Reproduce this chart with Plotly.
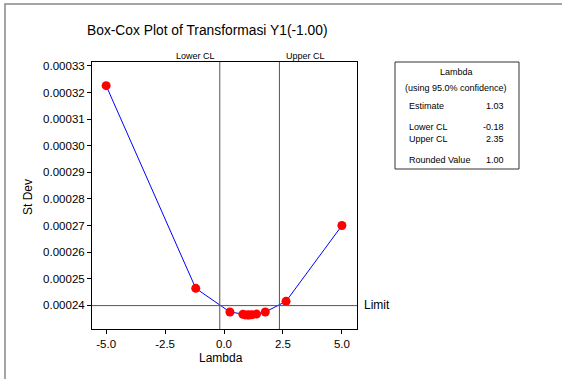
import plotly.graph_objects as go

# Data
lambdas = [-5.0, -1.2, 0.25, 0.8, 0.9, 1.0, 1.03, 1.1, 1.2, 1.38, 1.75, 2.63, 5.0]
stdevs = [0.0003226, 0.0002464, 0.0002375, 0.0002366, 0.0002364, 0.0002364, 0.0002364,
          0.0002364, 0.0002365, 0.0002367, 0.0002375, 0.0002415, 0.0002700]
lower_cl = -0.18
upper_cl = 2.35
limit = 0.0002399
x_ticks = [-5.0, -2.5, 0.0, 2.5, 5.0]
y_ticks = [0.00024, 0.00025, 0.00026, 0.00027, 0.00028, 0.00029, 0.00030, 0.00031, 0.00032, 0.00033]
legend_rows = [("Estimate", "1.03"), ("Lower CL", "-0.18"), ("Upper CL", "2.35"), ("Rounded Value", "1.00")]

W, H = 562, 379
L, R, T, B = 92, 357, 62, 329
FONT = "Liberation Sans, Arial, sans-serif"

def px(x):
    return (x - L) / (R - L)

def py(y):
    return (B - y) / (B - T)

fig = go.Figure()
fig.add_trace(go.Scatter(x=lambdas, y=stdevs, mode="lines+markers",
                         line=dict(color="#0000ff", width=1),
                         marker=dict(color="#ff0000", size=9),
                         showlegend=False, hoverinfo="skip"))

shapes = [
    dict(type="line", xref="x", yref="paper", x0=lower_cl, x1=lower_cl, y0=0, y1=1,
         line=dict(color="#555555", width=1)),
    dict(type="line", xref="x", yref="paper", x0=upper_cl, x1=upper_cl, y0=0, y1=1,
         line=dict(color="#555555", width=1)),
    dict(type="line", xref="paper", yref="y", x0=0, x1=1, y0=limit, y1=limit,
         line=dict(color="#555555", width=1)),
    # outer frame
    dict(type="rect", xref="paper", yref="paper", x0=px(5), x1=px(600), y0=py(4), y1=py(420),
         line=dict(color="#888888", width=1.5)),
    # legend box
    dict(type="rect", xref="paper", yref="paper", x0=px(395), x1=px(519), y0=py(62), y1=py(169),
         line=dict(color="#333333", width=1)),
]

ann = []
def text(x, y, s, size, xanchor="center", angle=0):
    ann.append(dict(xref="paper", yref="paper", x=px(x), y=py(y), text=s, showarrow=False,
                    xanchor=xanchor, yanchor="middle", textangle=angle,
                    font=dict(family=FONT, size=size, color="#000000")))

text(207, 31, "Box-Cox Plot of Transformasi Y1(-1.00)", 13.8)
text(195, 56, "Lower CL", 9)
text(305, 56, "Upper CL", 9)
text(362, 305, "Limit", 12, xanchor="left")
text(221, 358, "Lambda", 12)
text(28, 197, "St Dev", 12, angle=-90)
text(456, 72, "Lambda", 9)
text(456, 88, "(using 95.0% confidence)", 9)
row_y = [106, 127, 139, 160]
for (lab, val), yy in zip(legend_rows, row_y):
    text(407, yy, lab, 9, xanchor="left")
    text(506, yy, val, 9, xanchor="right")

fig.update_layout(
    width=W, height=H,
    margin=dict(l=L, r=W - R, t=T, b=H - B),
    paper_bgcolor="white", plot_bgcolor="white",
    font=dict(family=FONT, size=12, color="#000000"),
    shapes=shapes, annotations=ann,
    xaxis=dict(range=[-5.6, 5.64], tickvals=x_ticks, ticktext=[f"{v:.1f}" for v in x_ticks],
               showgrid=False, zeroline=False, showline=True, mirror=True,
               linecolor="#000000", linewidth=1, ticks="outside", ticklen=4,
               tickcolor="#000000", tickfont=dict(size=11.5)),
    yaxis=dict(range=[0.0002311, 0.0003315], tickvals=y_ticks,
               ticktext=[f"{v:.5f}" for v in y_ticks],
               showgrid=False, zeroline=False, showline=True, mirror=True,
               linecolor="#000000", linewidth=1, ticks="outside", ticklen=4,
               tickcolor="#000000", tickfont=dict(size=11.5)),
)

fig.write_html("out.html")
